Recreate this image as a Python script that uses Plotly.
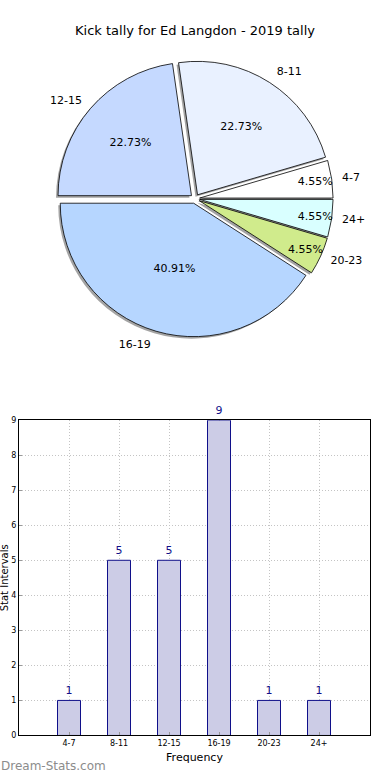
import plotly.graph_objects as go

# ---- data ----
categories = ["4-7", "8-11", "12-15", "16-19", "20-23", "24+"]
counts = [1, 5, 5, 9, 1, 1]
pie_colors = ["#ffffff", "#e9f1ff", "#c5d9ff", "#b6d6ff", "#d0eb8c", "#d9ffff"]
explode = [0.035, 0.035, 0.035, 0.035, 0.035, 0.035]
y_ticks = [0, 1, 2, 3, 4, 5, 6, 7, 8, 9]

title_text = "Kick tally for Ed Langdon - 2019 tally"
W, H = 390, 780

# pie geometry (pixels)
cx, cy, r = 195, 197, 135
r_lab = r + 7
half = r * (1 + max(explode))
half_lab = r_lab * (1 + max(explode))
def px_dom(x0, x1, y0, y1):
    return dict(x=[x0 / W, x1 / W], y=[1 - y1 / H, 1 - y0 / H])

pie_dom = px_dom(cx - half, cx + half, cy - half, cy + half)
lab_dom = px_dom(cx - half_lab, cx + half_lab, cy - half_lab, cy + half_lab)
shadow_dom = px_dom(cx - half - 2, cx + half - 2, cy - half + 2, cy + half + 2)

# plotly's counterclockwise pies place the first slice before the rotation angle;
# start the first slice at 3 o'clock like matplotlib
start_rot = 90 - 360.0 * counts[0] / sum(counts)

fig = go.Figure()

common = dict(labels=categories, values=counts, sort=False,
              direction="counterclockwise", rotation=start_rot, pull=explode,
              hoverinfo="skip", showlegend=False)

# shadow
fig.add_trace(go.Pie(**common, domain=shadow_dom,
                     marker=dict(colors=["rgba(90,90,90,0.55)"] * len(counts),
                                 line=dict(width=0)),
                     textinfo="none"))
# labels outside (transparent, slightly larger pie so labels sit further out)
fig.add_trace(go.Pie(**common, domain=lab_dom,
                     marker=dict(colors=["rgba(0,0,0,0)"] * len(counts),
                                 line=dict(width=0)),
                     texttemplate="%{label}", textposition="outside",
                     outsidetextfont=dict(family="DejaVu Sans", size=11, color="black")))
# main pie with percentages inside
fig.add_trace(go.Pie(**common, domain=pie_dom,
                     marker=dict(colors=pie_colors, line=dict(color="black", width=0.8)),
                     texttemplate="%{percent:.2%}", textposition="inside",
                     insidetextorientation="horizontal",
                     textfont=dict(family="DejaVu Sans", size=11, color="black")))

# bar chart
fig.add_trace(go.Bar(x=categories, y=counts, width=0.46,
                     marker=dict(color="#ccccE6", line=dict(color="#10108a", width=1)),
                     text=[str(c) for c in counts], textposition="outside",
                     textfont=dict(family="DejaVu Sans", size=11, color="#10108a"),
                     cliponaxis=False, showlegend=False, hoverinfo="skip",
                     xaxis="x", yaxis="y"))

grid_style = dict(showgrid=True, gridcolor="#c4c4c4", griddash="1px,2px", gridwidth=1)

fig.update_layout(
    width=W, height=H,
    margin=dict(l=0, r=0, t=0, b=0),
    paper_bgcolor="white", plot_bgcolor="white",
    font=dict(family="DejaVu Sans", color="black"),
    uniformtext=dict(minsize=11, mode="show"),
    title=dict(text=title_text, x=0.5, xanchor="center", y=1 - 30 / H,
               yanchor="middle", font=dict(size=13, color="black")),
    xaxis=dict(domain=[19 / W, 370 / W], range=[-1, 6.02], type="category",
               showline=True, linecolor="black", linewidth=1, mirror=True,
               ticks="inside", ticklen=3, tickcolor="#999",
               tickfont=dict(size=8), zeroline=False,
               title=dict(text="Frequency", font=dict(size=11), standoff=6),
               fixedrange=True, **grid_style),
    yaxis=dict(domain=[1 - 740 / H, 1 - 421 / H], range=[0, 9],
               tickvals=y_ticks, ticktext=[str(t) for t in y_ticks],
               showline=True, linecolor="black", linewidth=1, mirror=True,
               ticks="inside", ticklen=3, tickcolor="#999",
               tickfont=dict(size=8), zeroline=False, fixedrange=True,
               **grid_style),
    annotations=[
        dict(text="Stat Intervals", xref="paper", yref="paper",
             x=0, y=1 - 581 / H, xanchor="center", yanchor="middle", xshift=4,
             textangle=-90, showarrow=False, font=dict(size=10, color="black")),
        dict(text="Dream-Stats.com", xref="paper", yref="paper",
             x=0, y=0, xanchor="left", yanchor="bottom", xshift=-1, yshift=0,
             showarrow=False, font=dict(size=12, color="#8c8c8c")),
    ],
)

fig.write_html(
    "out.html",
    config={"displayModeBar": False, "staticPlot": True},
    post_script="document.body.style.margin='0';document.body.style.overflow='hidden';"
                "document.documentElement.style.overflow='hidden';",
)
